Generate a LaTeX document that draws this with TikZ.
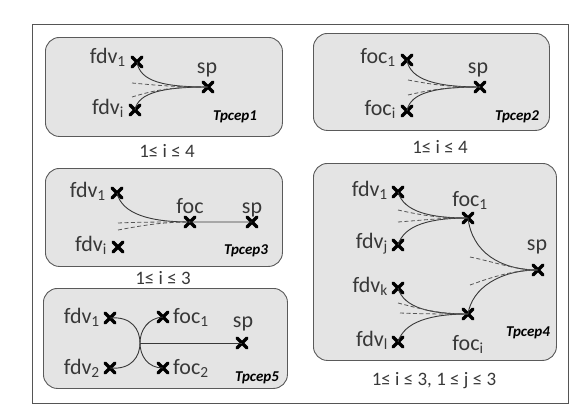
\documentclass[tikz,border=0pt]{standalone}
\usepackage{fontspec}
\setmainfont{Carlito}
\usetikzlibrary{shapes.misc}
\definecolor{txt}{HTML}{383838}
\definecolor{boxfill}{HTML}{E4E4E4}
\definecolor{boxline}{HTML}{5A5A5A}
\definecolor{frameline}{HTML}{555555}
\definecolor{dash}{HTML}{555555}
\tikzset{
  panel/.style={draw=boxline, fill=boxfill, line width=0.9pt, rounded corners=14pt},
  xmark/.style={cross out, draw=black, line width=3.2pt, line cap=round, minimum size=7pt, inner sep=0pt},
  lbl/.style={text=txt, inner sep=0pt, font=\fontsize{22}{22}\selectfont},
  cond/.style={text=txt, inner sep=0pt, font=\fontsize{19}{19}\selectfont},
  tname/.style={text=black, inner sep=0pt, font=\fontsize{15}{15}\selectfont\bfseries\itshape},
  link/.style={draw=txt, line width=0.9pt},
  dlink/.style={draw=dash, line width=0.8pt, dash pattern=on 4pt off 2.5pt},
}
\newcommand{\sbs}[1]{\textsubscript{#1}}
\begin{document}
\begin{tikzpicture}[x=1pt,y=-1pt]
\useasboundingbox (0,0) rectangle (576,410);
\node[draw=frameline, line width=0.9pt, minimum width=536pt, minimum height=379pt, anchor=north west, inner sep=0pt] (frame) at (32,24) {};

% ---------------- Tpcep1
\node[panel, minimum width=237pt, minimum height=99pt, anchor=north west] (b1) at (45,37) {};
\node[xmark] (b1f1) at (137,62) {};
\node[xmark] (b1fi) at (135,110) {};
\node[xmark] (b1sp) at (208,87) {};
\node[lbl, anchor=base east] (l1f1) at (126,63) {fdv\sbs{1}};
\node[lbl, anchor=base east] (l1fi) at (124,114) {fdv\sbs{i}};
\node[lbl, anchor=base] (l1sp) at (207,73) {sp};
\node[tname] (t1) at (235,117) {Tpcep1};
\node[cond] (c1) at (167,151) {1≤ i ≤ 4};
\coordinate (d1a) at (132,83);
\coordinate (d1b) at (132,97);
\draw[link] (b1f1.center) .. controls (140,82) and (165,87) .. (b1sp.center);
\draw[link] (b1fi.center) .. controls (138,92) and (165,87) .. (b1sp.center);
\draw[dlink] (d1a) .. controls (155,85) and (170,87) .. (b1sp.center);
\draw[dlink] (d1b) .. controls (155,90) and (170,87) .. (b1sp.center);

% ---------------- Tpcep2
\node[panel, minimum width=236pt, minimum height=97pt, anchor=north west] (b2) at (313,33) {};
\node[xmark] (b2f1) at (407,60) {};
\node[xmark] (b2fi) at (407,111) {};
\node[xmark] (b2sp) at (480,87) {};
\node[lbl, anchor=base east] (l2f1) at (396,63) {foc\sbs{1}};
\node[lbl, anchor=base east] (l2fi) at (396,115) {foc\sbs{i}};
\node[lbl, anchor=base] (l2sp) at (478,73) {sp};
\node[tname] (t2) at (517,117) {Tpcep2};
\node[cond] (c2) at (440,147) {1≤ i ≤ 4};
\coordinate (d2a) at (408,80);
\coordinate (d2b) at (408,95);
\draw[link] (b2f1.center) .. controls (410,80) and (437,87) .. (b2sp.center);
\draw[link] (b2fi.center) .. controls (410,92) and (437,87) .. (b2sp.center);
\draw[dlink] (d2a) .. controls (430,84) and (445,87) .. (b2sp.center);
\draw[dlink] (d2b) .. controls (430,90) and (445,87) .. (b2sp.center);

% ---------------- Tpcep3
\node[panel, minimum width=237pt, minimum height=98pt, anchor=north west] (b3) at (45,168) {};
\node[xmark] (b3f1) at (117,193) {};
\node[xmark] (b3fi) at (118,247) {};
\node[xmark] (b3foc) at (190,222) {};
\node[xmark] (b3sp) at (252,222) {};
\node[lbl, anchor=base east] (l3f1) at (106,197) {fdv\sbs{1}};
\node[lbl, anchor=base east] (l3fi) at (107,251) {fdv\sbs{i}};
\node[lbl, anchor=base] (l3foc) at (190,213) {foc};
\node[lbl, anchor=base] (l3sp) at (252,213) {sp};
\node[tname] (t3) at (246,251) {Tpcep3};
\node[cond] (c3) at (163,278) {1≤ i ≤ 3};
\coordinate (d3a) at (118,223);
\coordinate (d3b) at (118,230);
\draw[link] (b3f1.center) .. controls (122,214) and (150,222) .. (b3foc.center) -- (b3sp.center);
\draw[dlink] (d3a) .. controls (140,222) and (160,222) .. (b3foc.center);
\draw[dlink] (d3b) .. controls (140,226) and (160,222) .. (b3foc.center);

% ---------------- Tpcep5
\node[panel, minimum width=244pt, minimum height=100pt, anchor=north west] (b5) at (43,288) {};
\node[xmark] (b5f1) at (110,318) {};
\node[xmark] (b5f2) at (110,368) {};
\node[xmark] (b5o1) at (163,317) {};
\node[xmark] (b5o2) at (163,368) {};
\node[xmark] (b5sp) at (242,343) {};
\coordinate (j5) at (140,343);
\node[lbl, anchor=base east] (l5f1) at (100,323) {fdv\sbs{1}};
\node[lbl, anchor=base east] (l5f2) at (100,374) {fdv\sbs{2}};
\node[lbl, anchor=base west] (l5o1) at (173,323) {foc\sbs{1}};
\node[lbl, anchor=base west] (l5o2) at (173,374) {foc\sbs{2}};
\node[lbl, anchor=base] (l5sp) at (243,327) {sp};
\node[tname] (t5) at (257,378) {Tpcep5};
\draw[link] (b5f1.center) .. controls (132,316) and (140,330) .. (j5) .. controls (140,356) and (132,370) .. (b5f2.center);
\draw[link] (b5o1.center) .. controls (148,318) and (140,330) .. (j5) .. controls (140,356) and (148,368) .. (b5o2.center);
\draw[link] (j5) -- (b5sp.center);

% ---------------- Tpcep4
\node[panel, minimum width=243pt, minimum height=197pt, anchor=north west] (b4) at (313,163) {};
\node[xmark] (b4f1) at (398,192) {};
\node[xmark] (b4fj) at (398,245) {};
\node[xmark] (b4fk) at (398,288) {};
\node[xmark] (b4fl) at (398,342) {};
\node[xmark] (b4o1) at (468,218) {};
\node[xmark] (b4oi) at (468,314) {};
\node[xmark] (b4sp) at (538,270) {};
\node[lbl, anchor=base east] (l4f1) at (388,196) {fdv\sbs{1}};
\node[lbl, anchor=base east] (l4fj) at (388,248) {fdv\sbs{j}};
\node[lbl, anchor=base east] (l4fk) at (388,292) {fdv\sbs{k}};
\node[lbl, anchor=base east] (l4fl) at (388,346) {fdv\sbs{l}};
\node[lbl, anchor=base] (l4o1) at (470,206) {foc\sbs{1}};
\node[lbl, anchor=base] (l4oi) at (468,350) {foc\sbs{i}};
\node[lbl, anchor=base] (l4sp) at (537,250) {sp};
\node[tname] (t4) at (528,333) {Tpcep4};
\node[cond] (c4) at (434,381) {1≤ i ≤ 3, 1 ≤ j ≤ 3};
\coordinate (d4a) at (398,210);
\coordinate (d4b) at (398,222);
\coordinate (d4c) at (470,257);
\coordinate (d4d) at (470,285);
\coordinate (d4e) at (398,303);
\coordinate (d4f) at (400,313);
\draw[link] (b4f1.center) .. controls (404,212) and (430,218) .. (b4o1.center);
\draw[link] (b4fj.center) .. controls (404,225) and (430,218) .. (b4o1.center);
\draw[link] (b4fk.center) .. controls (404,308) and (430,314) .. (b4oi.center);
\draw[link] (b4fl.center) .. controls (404,322) and (430,314) .. (b4oi.center);
\draw[link] (b4o1.center) .. controls (472,252) and (500,270) .. (b4sp.center);
\draw[link] (b4oi.center) .. controls (472,288) and (500,270) .. (b4sp.center);
\draw[dlink] (d4a) .. controls (425,216) and (440,218) .. (b4o1.center);
\draw[dlink] (d4b) .. controls (425,220) and (440,218) .. (b4o1.center);
\draw[dlink] (d4c) .. controls (495,262) and (515,270) .. (b4sp.center);
\draw[dlink] (d4d) .. controls (495,276) and (515,270) .. (b4sp.center);
\draw[dlink] (d4e) .. controls (425,310) and (440,314) .. (b4oi.center);
\draw[dlink] (d4f) .. controls (425,314) and (440,314) .. (b4oi.center);
\end{tikzpicture}
\end{document}
